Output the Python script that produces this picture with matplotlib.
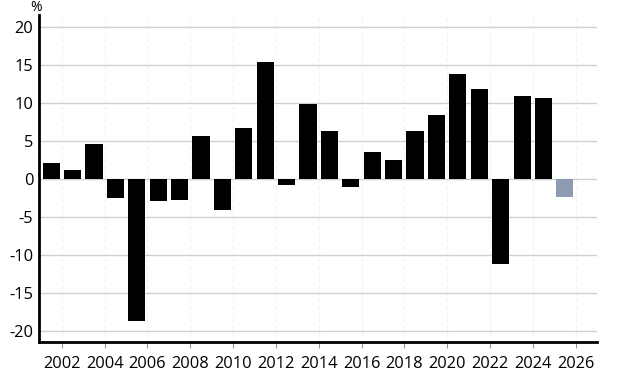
import numpy as np
import matplotlib.pyplot as plt

plt.rcParams['font.family'] = ['Open Sans', 'DejaVu Sans']
plt.rcParams['axes.unicode_minus'] = False

# Datos (la ultima barra es una prevision)
anios = list(range(2002, 2027))
valores = [2.1, 1.2, 4.6, -2.55, -18.7, -2.85, -2.8, 5.65, -4.1, 6.65, 15.4, -0.8, 9.8,
           6.25, -1.05, 3.6, 2.5, 6.25, 8.4, 13.85, 11.85, -11.2, 10.85, 10.6, -2.4]
previsto = [False] * 24 + [True]
ticks_x = list(range(2002, 2027, 2))
ticks_y = [-20, -15, -10, -5, 0, 5, 10, 15, 20]

colores = ['#8E9BB0' if p else '#000000' for p in previsto]
x = np.array(anios) - 0.5

fig, ax = plt.subplots(figsize=(6.18, 3.76), dpi=100)
fig.subplots_adjust(left=0.063, right=0.966, top=0.961, bottom=0.091)

ax.bar(x, valores, width=0.8, color=colores, zorder=3)

ax.set_xlim(2000.93, 2027.0)
ax.set_ylim(-21.4, 21.6)
ax.set_xticks(ticks_x)
ax.set_yticks(ticks_y)
ax.tick_params(axis='x', labelsize=11.8, length=4, color='#999999', pad=6)
ax.tick_params(axis='y', labelsize=11.8, length=0, pad=4)

ax.grid(axis='y', color='#d0d0d0', linewidth=1, zorder=0)
ax.grid(axis='x', color='#f0f0f0', linewidth=0.8, linestyle=(0, (3, 3)), zorder=0)

for s in ['top', 'right']:
    ax.spines[s].set_visible(False)
for s in ['left', 'bottom']:
    ax.spines[s].set_linewidth(2)
    ax.spines[s].set_color('black')

ax.text(-0.005, 1.0, '%', transform=ax.transAxes, ha='center', va='bottom', fontsize=10)

plt.savefig('out.png')
